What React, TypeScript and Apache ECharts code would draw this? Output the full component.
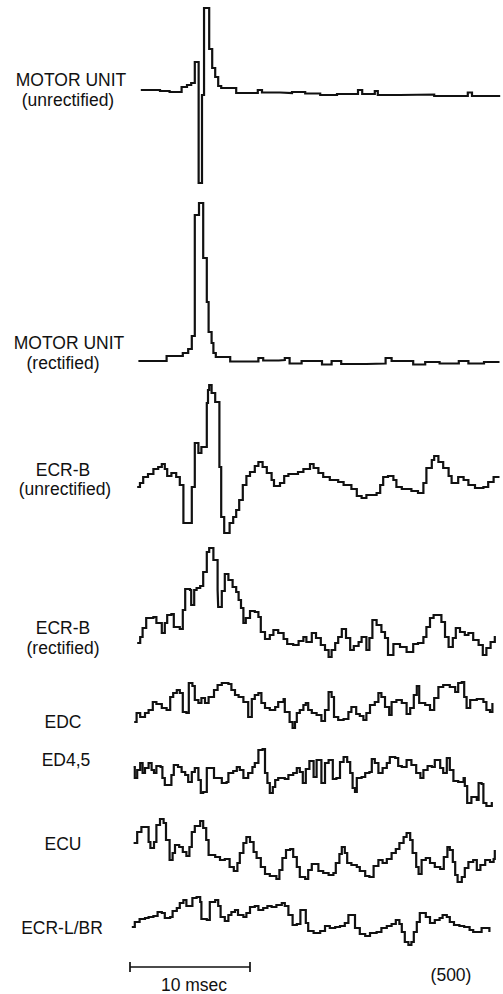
import React, { useEffect, useRef } from "react";
import * as echarts from "echarts";

// Sweep length (ms) shown across each trace, and the calibration bar length.
const SWEEP_MS = 31;
const SCALE_MS = 10;

// Each trace: [time (ms), amplitude (arbitrary units, 0 = resting level)],
// sample-and-hold values as plotted by the averager.
const motorUnitUnrectified: [number, number][] = [
  [0.9, 1], [2.5, 0], [3.3, -1], [4.3, 4], [4.75, 6], [5.1, 8], [5.4, 29], [5.72, -92],
  [6.0, -4], [6.17, 83], [6.6, 42], [6.85, 23], [7.1, 14], [7.35, 5], [7.6, 3], [8.85, -2],
  [10.65, 1], [11.0, -1.5], [12.5, -2], [13.5, -1], [14.6, -2.5], [15.85, -4], [17.25, -3],
  [19.0, 1], [19.35, -3], [20.4, 0], [20.65, -4], [22.5, -3.5], [25.35, -5], [28.15, -1.5],
  [28.5, -5], [30.85, -5],
];

const motorUnitRectified: [number, number][] = [
  [0.7, -1], [3.05, 4], [4.4, 7], [4.85, 11], [5.15, 24], [5.4, 145], [5.75, 157], [6.1, 102],
  [6.4, 58], [6.55, 28], [6.8, 17], [6.95, 7], [7.15, 3], [8.35, -1.5], [10.3, -1.5], [10.7, 2],
  [11.1, -0.5], [12.4, 0], [12.9, 2], [13.3, -3.5], [14.3, -1], [16.0, -4.5], [16.8, -1],
  [17.6, -4], [19.7, -3.5], [21.3, 2], [21.8, -1], [23.6, -4.5], [24.6, -2], [25.8, -3.5],
  [27.4, -1], [28.2, -3.5], [29.5, -2], [30.7, -1],
];

const ecrbUnrectified: [number, number][] = [
  [0.6, -7], [0.83, -3], [1.1, 3], [1.5, 6], [1.95, 11], [2.35, 13], [2.65, 16], [2.9, 11],
  [3.1, 4], [3.45, 7], [3.85, 3], [4.15, -5], [4.45, -43], [5.15, -7], [5.4, 37], [5.7, 27],
  [5.95, 33], [6.4, 77], [6.5, 90], [6.6, 95], [6.8, 87], [7.1, 78], [7.45, 13], [7.6, -37],
  [7.85, -53], [8.3, -43], [8.6, -37], [8.85, -30], [9.1, -20], [9.4, -5], [9.7, 4], [10.0, 8],
  [10.4, 14], [10.7, 18], [11.05, 13], [11.4, 7], [11.8, 0], [12.0, -6], [12.5, -3], [12.85, 4],
  [13.2, 6], [14.0, 8], [14.45, 11], [15.0, 16], [15.3, 12], [15.7, 7], [16.1, 3], [16.65, 0],
  [17.35, -2], [17.8, -5], [18.45, -9], [18.9, -16], [19.3, -18], [19.7, -15], [20.55, -13],
  [20.85, -5], [21.1, 3], [21.5, 4], [21.95, 0], [22.2, -7], [22.65, -9], [23.45, -11],
  [24.0, -13], [24.45, -3], [24.7, 12], [25.15, 20], [25.35, 24], [25.7, 18], [26.1, 12],
  [26.55, 4], [26.8, -3], [27.35, 3], [27.8, 0], [28.2, -5], [28.75, -8], [29.45, -7],
  [29.85, -2], [30.3, 3], [30.7, 4],
];

const ecrbRectified: [number, number][] = [
  [0.6, -3], [0.85, 3], [1.05, 12], [1.35, 22], [1.95, 23], [2.2, 17], [2.65, 7], [2.9, 17],
  [3.1, 25], [3.45, 26], [3.65, 13], [4.15, 11], [4.4, 30], [4.6, 51], [5.0, 50], [5.1, 35],
  [5.35, 50], [5.55, 52], [5.85, 54], [6.1, 68], [6.4, 88], [6.6, 92], [6.95, 80], [7.3, 50],
  [7.35, 33], [7.65, 49], [7.9, 66], [8.2, 60], [8.55, 53], [8.85, 48], [9.05, 40], [9.25, 32],
  [9.45, 17], [9.65, 22], [10.0, 29], [10.4, 28], [10.7, 23], [10.9, 8], [11.25, 1], [11.65, 5],
  [11.95, 10], [12.35, 7], [12.8, 1], [13.1, -4], [13.6, -5], [14.05, -1], [14.45, 3],
  [14.7, -2], [15.15, 7], [15.5, 2], [15.9, -5], [16.25, -10], [16.55, -17], [16.8, -10],
  [17.1, -3], [17.35, 3], [17.65, 11], [18.0, 2], [18.35, -10], [18.65, -6], [19.05, -2],
  [19.3, 3], [19.7, -10], [19.95, 2], [20.2, 20], [20.55, 15], [20.95, 8], [21.25, 2],
  [21.5, -15], [21.95, -4], [22.5, -7], [23.05, -12], [23.6, -4], [24.0, -3], [24.45, 3],
  [24.7, 13], [25.0, 22], [25.3, 25], [25.95, 18], [26.25, 3], [26.55, -7], [26.9, 2],
  [27.15, 12], [27.5, 8], [27.9, 5], [28.2, 7], [28.6, 0], [29.05, -5], [29.4, -15], [29.7, -8],
  [30.05, -2], [30.4, 4],
];

const edc: [number, number][] = [
  [0.35, -10], [0.55, -1], [0.85, -5], [1.25, -1], [1.55, 2], [1.9, 10], [2.2, 8], [2.65, 4],
  [3.05, 2], [3.35, 15], [3.6, 19], [3.9, 22], [4.15, 19], [4.4, 0], [4.7, -1], [4.9, 29],
  [5.2, 26], [5.4, 12], [5.7, 9], [5.95, 14], [6.25, 9], [6.55, 15], [7.0, 22], [7.3, 27],
  [7.65, 29], [8.2, 28], [8.45, 22], [8.75, 17], [9.05, 15], [9.45, 10], [9.85, -5], [10.15, 13],
  [10.4, 17], [10.7, 19], [10.95, 9], [11.25, 4], [11.65, 2], [12.1, 5], [12.35, 10], [12.8, 13],
  [12.9, 0], [13.3, -10], [13.55, -16], [13.75, -10], [13.9, -1], [14.15, 2], [14.45, 7],
  [14.65, 9], [14.85, 2], [15.15, -1], [15.55, -3], [15.95, -9], [16.25, 2], [16.55, 20],
  [16.8, 15], [17.0, -5], [17.35, -8], [17.8, -7], [18.2, 0], [18.45, 5], [18.85, -2],
  [19.15, -4], [19.45, -8], [19.7, -1], [20.0, 7], [20.4, 10], [20.7, 19], [20.95, 15],
  [21.25, 5], [21.6, -3], [21.8, 10], [22.2, 12], [22.65, 9], [23.05, -2], [23.35, 4],
  [23.65, 17], [23.9, 26], [24.1, 9], [24.6, 7], [25.0, 2], [25.35, 14], [25.7, 25], [26.1, 27],
  [26.65, 25], [27.1, 20], [27.35, 29], [27.65, 30], [27.85, 15], [28.05, 4], [28.35, 12],
  [28.9, 13], [29.45, 10], [29.7, 2], [30.0, 0], [30.2, 9],
];

const ed45: [number, number][] = [
  [0.3, 3], [0.4, -8], [0.6, 0], [0.85, 7], [1.05, -3], [1.25, 2], [1.55, 7], [1.8, 0],
  [2.0, -3], [2.2, 4], [2.55, 3], [2.7, -8], [2.9, -15], [3.3, -15], [3.45, -5], [3.65, 5],
  [4.0, 3], [4.3, -2], [4.6, -5], [4.85, -12], [5.15, -2], [5.4, 2], [5.7, -10], [5.9, -23],
  [6.1, -22], [6.4, 2], [6.8, 2], [7.0, -8], [7.35, -8], [7.65, -13], [8.05, -12], [8.2, -3],
  [8.6, -1], [8.9, 3], [9.15, 0], [9.45, -8], [9.85, -3], [10.2, 3], [10.4, 7], [10.7, 20],
  [11.05, 21], [11.25, -3], [11.45, -13], [11.65, -23], [11.9, -17], [12.1, -10], [12.35, -8],
  [12.9, -9], [13.2, -5], [13.6, -3], [13.9, 2], [14.15, -2], [14.4, -13], [14.65, 1],
  [14.95, 9], [15.3, -7], [15.55, 10], [15.95, -13], [16.25, 7], [16.55, 10], [16.9, -9],
  [17.2, -8], [17.5, 8], [17.8, 13], [18.1, 8], [18.35, -3], [18.55, -18], [18.75, -22],
  [18.9, -8], [19.3, -7], [19.6, -3], [19.95, -2], [20.15, 11], [20.4, 7], [20.7, -3],
  [21.05, 2], [21.4, 7], [21.65, 13], [22.1, 12], [22.35, 4], [22.65, 3], [23.05, 10],
  [23.45, 5], [23.85, -3], [24.2, -8], [24.45, 0], [24.8, 4], [25.15, 3], [25.4, 10],
  [25.85, 2], [26.1, -3], [26.4, 12], [26.65, 0], [26.95, -11], [27.35, -12], [27.8, -8],
  [27.9, -16], [28.1, -33], [28.45, -27], [28.9, -30], [29.05, -13], [29.3, -14], [29.45, -33],
  [29.7, -36], [30.15, -32],
];

const ecu: [number, number][] = [
  [0.3, 7], [0.6, 18], [0.95, 23], [1.35, 23], [1.55, 8], [1.7, 2], [2.0, 8], [2.2, 25],
  [2.5, 31], [2.8, 27], [3.0, 10], [3.3, -10], [3.55, -3], [3.75, 5], [4.1, 3], [4.4, -2],
  [4.7, -6], [4.95, 3], [5.15, 18], [5.4, 24], [5.85, 29], [6.1, 22], [6.35, 10], [6.55, -5],
  [7.1, -7], [7.5, -10], [7.9, -9], [8.3, -17], [8.65, -21], [8.95, -13], [9.15, -3], [9.45, 7],
  [9.7, 13], [10.0, 8], [10.3, -2], [10.55, -8], [10.9, -17], [11.25, -24], [11.65, -26],
  [12.2, -29], [12.45, -20], [12.7, -8], [13.0, 0], [13.35, 1], [13.6, -7], [13.9, -17],
  [14.15, -27], [14.6, -29], [14.85, -20], [15.15, -14], [15.7, -21], [16.1, -23], [16.55, -25],
  [16.95, -23], [17.15, -13], [17.45, -4], [17.65, 3], [17.9, -3], [18.1, -13], [18.45, -15],
  [18.9, -17], [19.15, -21], [19.6, -26], [19.95, -27], [20.3, -16], [20.7, -10], [21.05, -13],
  [21.4, -9], [21.8, -3], [22.15, 1], [22.45, 7], [22.8, 13], [23.05, 17], [23.35, 10],
  [23.55, -3], [23.85, -17], [24.05, -24], [24.3, -10], [24.65, -8], [25.0, -13], [25.4, -17],
  [25.85, -19], [26.15, -7], [26.45, 3], [26.65, 0], [26.9, -12], [27.1, -25], [27.3, -32],
  [27.65, -27], [27.9, -18], [28.2, -12], [28.6, -10], [28.9, -20], [29.2, -15], [29.6, -10],
  [30.0, -12], [30.3, -9], [30.4, 0],
];

const ecrlBr: [number, number][] = [
  [0.15, -7], [0.4, -2], [0.8, 1], [1.25, 2], [1.55, 3], [1.95, 4], [2.3, 8], [2.65, 7],
  [2.9, 2], [3.35, 3], [3.55, 9], [3.9, 12], [4.15, 17], [4.45, 20], [4.7, 14], [5.0, 14],
  [5.2, 22], [5.55, 23], [5.85, 18], [5.95, 1], [6.4, 0], [6.65, 18], [7.1, 20], [7.35, 14],
  [7.55, 3], [7.9, -1], [8.2, 5], [8.45, 8], [8.75, 10], [9.0, 5], [9.45, 3], [9.7, 7],
  [10.0, 13], [10.4, 14], [10.7, 10], [11.1, 12], [11.45, 14], [11.8, 13], [12.2, 15],
  [12.65, 17], [12.9, 14], [13.2, 5], [13.55, -5], [13.9, -4], [14.2, 10], [14.45, 10],
  [14.65, -3], [14.85, -11], [15.3, -13], [15.85, -11], [16.25, -6], [16.65, -8], [17.1, -7],
  [17.5, -6], [17.9, -3], [18.2, 5], [18.45, 5], [18.75, -8], [19.15, -14], [19.6, -16],
  [20.0, -13], [20.55, -12], [20.95, -8], [21.4, -6], [21.8, -4], [22.15, 0], [22.45, -4],
  [22.65, -12], [22.9, -22], [23.2, -25], [23.45, -22], [23.65, -12], [23.9, -2], [24.15, 7],
  [24.45, 7], [24.65, 3], [25.0, -3], [25.4, 0], [25.8, 2], [26.05, 5], [26.4, 3], [26.65, -2],
  [27.0, -5], [27.45, -6], [27.85, -7], [28.3, -10], [28.6, -12], [28.95, -12], [29.3, -8],
  [29.65, -8], [29.95, -12],
];

// Trace labels (one or two lines each)
const traceLabels: string[][] = [
  ["MOTOR UNIT", "(unrectified)"],
  ["MOTOR UNIT", "(rectified)"],
  ["ECR-B", "(unrectified)"],
  ["ECR-B", "(rectified)"],
  ["EDC"],
  ["ED4,5"],
  ["ECU"],
  ["ECR-L/BR"],
];

const traces = [
  motorUnitUnrectified,
  motorUnitRectified,
  ecrbUnrectified,
  ecrbRectified,
  edc,
  ed45,
  ecu,
  ecrlBr,
];

const scaleLabel = "10 msec";
const countLabel = "(500)";

// Layout of each strip: resting level (page px), amplitude window, label placement.
const PLOT_LEFT = 130;
const PLOT_WIDTH = 372;
const strips = [
  { baseline: 91, vMin: -100, vMax: 90, labelX: [71, 68], labelY: [80, 100] },
  { baseline: 360, vMin: -10, vMax: 160, labelX: [69, 63], labelY: [343, 363] },
  { baseline: 480, vMin: -60, vMax: 100, labelX: [63, 65], labelY: [470, 489] },
  { baseline: 640, vMin: -20, vMax: 100, labelX: [63, 63], labelY: [628, 648] },
  { baseline: 712, vMin: -20, vMax: 35, labelX: [63], labelY: [722] },
  { baseline: 770, vMin: -40, vMax: 25, labelX: [66], labelY: [760] },
  { baseline: 850, vMin: -35, vMax: 35, labelX: [63], labelY: [844] },
  { baseline: 920, vMin: -20, vMax: 25, labelX: [62], labelY: [928] },
];
const SCALE_BASELINE = 967;
const SCALE_TICK = 5;

const INK = "#111111";
const FONT = "17.5px 'Liberation Sans', Arial, sans-serif";

function textItem(text: string, x: number, y: number) {
  return {
    type: "text",
    x,
    y,
    style: {
      text,
      fill: INK,
      font: FONT,
      textAlign: "center",
      textVerticalAlign: "middle",
      align: "center",
      verticalAlign: "middle",
    },
  };
}

export default function App() {
  const ref = useRef<HTMLDivElement>(null);

  useEffect(() => {
    if (!ref.current) return;
    const chart = echarts.init(ref.current, null, { renderer: "svg", width: 503, height: 994 });

    const grid: any[] = [];
    const xAxis: any[] = [];
    const yAxis: any[] = [];
    const series: any[] = [];
    const graphic: any[] = [];

    strips.forEach((s, i) => {
      grid.push({
        left: PLOT_LEFT,
        width: PLOT_WIDTH,
        top: s.baseline - s.vMax,
        height: s.vMax - s.vMin,
        containLabel: false,
      });
      xAxis.push({ type: "value", gridIndex: i, min: 0, max: SWEEP_MS, show: false });
      yAxis.push({ type: "value", gridIndex: i, min: s.vMin, max: s.vMax, show: false });
      series.push({
        type: "line",
        xAxisIndex: i,
        yAxisIndex: i,
        data: traces[i],
        step: "end",
        showSymbol: false,
        symbol: "none",
        clip: false,
        lineStyle: { color: INK, width: 2.2, join: "miter" },
      });
      traceLabels[i].forEach((text, k) => {
        graphic.push(textItem(text, s.labelX[k], s.labelY[k]));
      });
    });

    // Calibration bar
    const gi = strips.length;
    grid.push({ left: PLOT_LEFT, width: PLOT_WIDTH, top: SCALE_BASELINE - 10, height: 20 });
    xAxis.push({ type: "value", gridIndex: gi, min: 0, max: SWEEP_MS, show: false });
    yAxis.push({ type: "value", gridIndex: gi, min: -10, max: 10, show: false });
    series.push({
      type: "line",
      xAxisIndex: gi,
      yAxisIndex: gi,
      data: [
        [0, SCALE_TICK],
        [0, -SCALE_TICK],
        [0, 0],
        [SCALE_MS, 0],
        [SCALE_MS, SCALE_TICK],
        [SCALE_MS, -SCALE_TICK],
      ],
      showSymbol: false,
      symbol: "none",
      clip: false,
      lineStyle: { color: INK, width: 1.7 },
    });

    graphic.push(textItem(scaleLabel, 194, 985));
    graphic.push(textItem(countLabel, 451, 975));

    chart.setOption({
      animation: false,
      backgroundColor: "#ffffff",
      grid,
      xAxis,
      yAxis,
      series,
      graphic,
    });

    return () => chart.dispose();
  }, []);

  return (
    <div
      ref={ref}
      style={{ position: "absolute", left: 0, top: 0, width: 503, height: 994, background: "#fff" }}
    />
  );
}
